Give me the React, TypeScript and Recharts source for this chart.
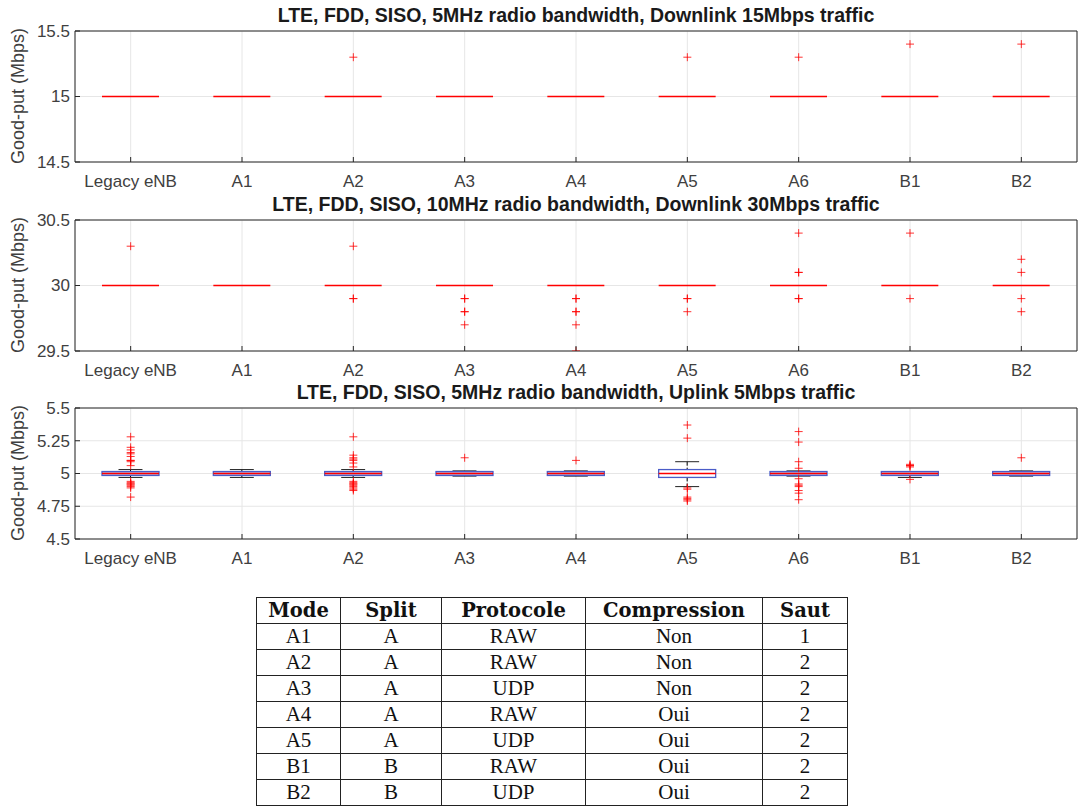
import React from "react";
import {
  ComposedChart,
  Bar,
  Scatter,
  XAxis,
  YAxis,
  CartesianGrid,
  ReferenceArea,
} from "recharts";

// categories on the x axis
const categories = ["Legacy eNB", "A1", "A2", "A3", "A4", "A5", "A6", "B1", "B2"];

// panel 1 : downlink 15 Mbps (all boxes collapsed at 15)
const dl15Median = [15, 15, 15, 15, 15, 15, 15, 15, 15];
const dl15Outliers = [[], [], [15.3], [], [], [15.3], [15.3], [15.4], [15.4]];

// panel 2 : downlink 30 Mbps
const dl30Median = [30, 30, 30, 30, 30, 30, 30, 30, 30];
const dl30Outliers = [
  [30.3],
  [],
  [30.3, 29.9, 29.9],
  [29.9, 29.9, 29.8, 29.8, 29.7],
  [29.9, 29.9, 29.8, 29.8, 29.7, 29.5],
  [29.9, 29.9, 29.8],
  [30.4, 30.1, 30.1, 29.9, 29.9],
  [30.4, 29.9],
  [30.2, 30.1, 29.9, 29.8],
];

// panel 3 : uplink 5 Mbps
const ul5WhiskerLow = [4.97, 4.97, 4.97, 4.98, 4.98, 4.9, 4.98, 4.97, 4.98];
const ul5Q1 = [4.985, 4.985, 4.985, 4.985, 4.985, 4.97, 4.985, 4.985, 4.985];
const ul5Median = [5, 5, 5, 5, 5, 5, 5, 5, 5];
const ul5Q3 = [5.015, 5.015, 5.015, 5.015, 5.015, 5.03, 5.015, 5.015, 5.015];
const ul5WhiskerHigh = [5.03, 5.03, 5.03, 5.02, 5.02, 5.09, 5.02, 5.01, 5.02];
const ul5Outliers = [
  [5.28, 5.2, 5.18, 5.16, 5.15, 5.13, 5.1, 5.1, 5.09, 5.06, 4.94, 4.93, 4.92, 4.92, 4.91, 4.9, 4.89, 4.82],
  [],
  [5.28, 5.14, 5.12, 5.11, 5.1, 5.08, 5.05, 4.94, 4.93, 4.92, 4.92, 4.91, 4.9, 4.89, 4.88, 4.87],
  [5.12],
  [5.1],
  [5.37, 5.27, 4.89, 4.88, 4.82, 4.81, 4.8, 4.79],
  [5.32, 5.24, 5.09, 5.04, 4.96, 4.92, 4.91, 4.9, 4.87, 4.85, 4.8],
  [5.07, 5.06, 5.06, 5.05, 4.955],
  [5.12],
];

// table
const tableHeader = ["Mode", "Split", "Protocole", "Compression", "Saut"];
const modes = ["A1", "A2", "A3", "A4", "A5", "B1", "B2"];
const splits = ["A", "A", "A", "A", "A", "B", "B"];
const protocols = ["RAW", "RAW", "UDP", "RAW", "UDP", "RAW", "UDP"];
const compressions = ["Non", "Non", "Non", "Oui", "Oui", "Oui", "Oui"];
const hops = ["1", "2", "2", "2", "2", "2", "2"];

const FONT = '"Liberation Sans", Arial, Helvetica, sans-serif';
const AXIS = "#262626";
const xTicks = categories.map((_, i) => i + 1);

type Row = { x: number; lo: number; q1: number; med: number; q3: number; hi: number };

const buildRows = (lo: number[], q1: number[], med: number[], q3: number[], hi: number[]): Row[] =>
  categories.map((_, i) => ({ x: i + 1, lo: lo[i], q1: q1[i], med: med[i], q3: q3[i], hi: hi[i] }));

const buildOutliers = (out: number[][]) =>
  out.flatMap((vals, i) => vals.map((v) => ({ x: i + 1, y: v })));

// box + whiskers drawn inside the whisker range bar
const BoxShape = (props: any) => {
  const { x, y, width, height, payload: d } = props;
  if (!d) return null;
  const span = d.hi - d.lo;
  const py = (v: number) => (span > 0 ? y + ((d.hi - v) / span) * height : y);
  const cx = x + width / 2;
  const cap = width * 0.21;
  const boxH = py(d.q1) - py(d.q3);
  return (
    <g>
      {span > 0 && (
        <g>
          <line x1={cx} x2={cx} y1={py(d.hi)} y2={py(d.q3)} stroke="#000" strokeDasharray="4 2" />
          <line x1={cx} x2={cx} y1={py(d.q1)} y2={py(d.lo)} stroke="#000" strokeDasharray="4 2" />
          <line x1={cx - cap} x2={cx + cap} y1={py(d.hi)} y2={py(d.hi)} stroke="#222" />
          <line x1={cx - cap} x2={cx + cap} y1={py(d.lo)} y2={py(d.lo)} stroke="#222" />
        </g>
      )}
      {boxH > 0 && (
        <rect
          x={x}
          y={py(d.q3)}
          width={width}
          height={boxH}
          fill={boxH < 6 ? "#b4bde8" : "#fff"}
          stroke="#4a5cc8"
          strokeWidth={1.3}
        />
      )}
      <line x1={x} x2={x + width} y1={py(d.med)} y2={py(d.med)} stroke="#ff0000" strokeWidth={1.5} />
    </g>
  );
};

const Plus = (props: any) => {
  const { cx, cy } = props;
  if (cx == null || cy == null) return null;
  return (
    <path
      d={`M${cx - 4},${cy}H${cx + 4}M${cx},${cy - 4}V${cy + 4}`}
      stroke="#ff0000"
      strokeOpacity={0.8}
      strokeWidth={1}
    />
  );
};

const BottomTick = (props: any) => {
  const { x, y, payload } = props;
  return (
    <g>
      <line x1={x} x2={x} y1={y} y2={y - 5} stroke={AXIS} />
      <text x={x} y={y + 25} textAnchor="middle" fill="#404040" fontSize={17} fontFamily={FONT}>
        {categories[payload.value - 1]}
      </text>
    </g>
  );
};

const TopTick = (props: any) => {
  const { x, y } = props;
  return <line x1={x} x2={x} y1={y} y2={y + 5} stroke={AXIS} />;
};

const LeftTick = (props: any) => {
  const { x, y, payload } = props;
  return (
    <g>
      <line x1={x} x2={x + 5} y1={y} y2={y} stroke={AXIS} />
      <text x={x - 5} y={y} dy="0.35em" textAnchor="end" fill="#404040" fontSize={17} fontFamily={FONT}>
        {payload.value}
      </text>
    </g>
  );
};

const RightTick = (props: any) => {
  const { x, y } = props;
  return <line x1={x} x2={x - 5} y1={y} y2={y} stroke={AXIS} />;
};

type PanelProps = {
  top: number;
  title: string;
  rows: Row[];
  outliers: { x: number; y: number }[];
  domain: [number, number];
  yTicks: number[];
};

const Panel = ({ top, title, rows, outliers, domain, yTicks }: PanelProps) => (
  <div style={{ position: "absolute", left: 0, top, width: 1080, height: 190 }}>
    <div
      style={{
        position: "absolute",
        left: 75,
        top: 3,
        width: 1002,
        textAlign: "center",
        fontFamily: FONT,
        fontWeight: "bold",
        fontSize: 19.5,
        lineHeight: "24px",
        color: "#1a1a1a",
      }}
    >
      {title}
    </div>
    <div
      style={{
        position: "absolute",
        left: 18 - 100,
        top: 96 - 11,
        width: 200,
        height: 22,
        lineHeight: "22px",
        textAlign: "center",
        transform: "rotate(-90deg)",
        fontFamily: FONT,
        fontSize: 18,
        color: "#404040",
      }}
    >
      Good-put (Mbps)
    </div>
    <ComposedChart width={1080} height={190} data={rows} margin={{ top: 31, right: 3, bottom: 0, left: 0 }}>
      <CartesianGrid stroke="#e6e6e6" />
      <XAxis
        type="number"
        dataKey="x"
        domain={[0.5, 9.5]}
        ticks={xTicks}
        interval={0}
        allowDataOverflow
        height={28}
        axisLine={false}
        tickLine={false}
        tickSize={0}
        tickMargin={0}
        tick={<BottomTick />}
      />
      <XAxis
        xAxisId="top"
        orientation="top"
        type="number"
        dataKey="x"
        domain={[0.5, 9.5]}
        ticks={xTicks}
        interval={0}
        allowDataOverflow
        height={0}
        axisLine={false}
        tickLine={false}
        tickSize={0}
        tickMargin={0}
        tick={<TopTick />}
      />
      <YAxis
        type="number"
        domain={domain}
        ticks={yTicks}
        interval={0}
        allowDataOverflow
        width={75}
        axisLine={false}
        tickLine={false}
        tickSize={0}
        tickMargin={0}
        tick={<LeftTick />}
      />
      <YAxis
        yAxisId="r"
        orientation="right"
        type="number"
        domain={domain}
        ticks={yTicks}
        interval={0}
        allowDataOverflow
        width={0}
        axisLine={false}
        tickLine={false}
        tickSize={0}
        tickMargin={0}
        tick={<RightTick />}
      />
      <ReferenceArea y1={domain[0]} y2={domain[1]} fill="none" stroke={AXIS} strokeWidth={1} />
      <Bar dataKey={(d: Row) => [d.lo, d.hi]} barSize={57} shape={BoxShape} isAnimationActive={false} />
      <Scatter data={outliers} dataKey="y" shape={Plus} isAnimationActive={false} />
    </ComposedChart>
  </div>
);

const cell: React.CSSProperties = {
  border: "1px solid #222",
  padding: 0,
  height: 25,
  lineHeight: "25px",
  textAlign: "center",
  verticalAlign: "middle",
  fontFamily: '"Liberation Serif", "Times New Roman", serif',
  fontSize: 21,
  fontWeight: "normal",
};

const headCell: React.CSSProperties = {
  ...cell,
  fontFamily: '"DejaVu Serif", serif',
  fontSize: 19.5,
  fontWeight: "bold",
};

const colWidths = [84, 101, 144, 177, 85];

export default function App() {
  const rows1 = buildRows(dl15Median, dl15Median, dl15Median, dl15Median, dl15Median);
  const rows2 = buildRows(dl30Median, dl30Median, dl30Median, dl30Median, dl30Median);
  const rows3 = buildRows(ul5WhiskerLow, ul5Q1, ul5Median, ul5Q3, ul5WhiskerHigh);
  const tableRows = modes.map((m, i) => [m, splits[i], protocols[i], compressions[i], hops[i]]);
  return (
    <div style={{ position: "absolute", left: 0, top: 0, width: 1080, height: 806, background: "#fff", overflow: "hidden" }}>
      <Panel
        top={0}
        title="LTE, FDD, SISO, 5MHz radio bandwidth, Downlink 15Mbps traffic"
        rows={rows1}
        outliers={buildOutliers(dl15Outliers)}
        domain={[14.5, 15.5]}
        yTicks={[14.5, 15, 15.5]}
      />
      <Panel
        top={189}
        title="LTE, FDD, SISO, 10MHz radio bandwidth, Downlink 30Mbps traffic"
        rows={rows2}
        outliers={buildOutliers(dl30Outliers)}
        domain={[29.5, 30.5]}
        yTicks={[29.5, 30, 30.5]}
      />
      <Panel
        top={377}
        title="LTE, FDD, SISO, 5MHz radio bandwidth, Uplink 5Mbps traffic"
        rows={rows3}
        outliers={buildOutliers(ul5Outliers)}
        domain={[4.5, 5.5]}
        yTicks={[4.5, 4.75, 5, 5.25, 5.5]}
      />
      <table
        style={{
          position: "absolute",
          left: 256,
          top: 597,
          borderCollapse: "collapse",
          color: "#111",
          tableLayout: "fixed",
        }}
      >
        <colgroup>
          {colWidths.map((w, i) => (
            <col key={i} style={{ width: w }} />
          ))}
        </colgroup>
        <thead>
          <tr>
            {tableHeader.map((h) => (
              <th key={h} style={headCell}>
                {h}
              </th>
            ))}
          </tr>
        </thead>
        <tbody>
          {tableRows.map((r, i) => (
            <tr key={i}>
              {r.map((v, j) => (
                <td key={j} style={cell}>
                  {v}
                </td>
              ))}
            </tr>
          ))}
        </tbody>
      </table>
    </div>
  );
}
